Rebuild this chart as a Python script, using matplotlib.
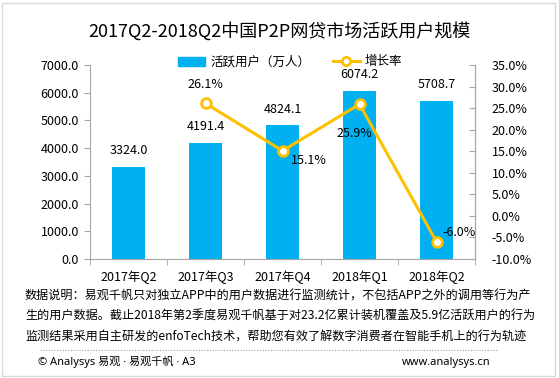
import matplotlib.pyplot as plt
import numpy as np
from matplotlib.lines import Line2D
from matplotlib.patches import Rectangle

plt.rcParams['font.family'] = ['Noto Sans CJK SC', 'DejaVu Sans']

quarters = ['2017年Q2', '2017年Q3', '2017年Q4', '2018年Q1', '2018年Q2']
users = [3324.0, 4191.4, 4824.1, 6074.2, 5708.7]
growth = [26.1, 15.1, 25.9, -6.0]   # from 2017Q3 on

bar_c = '#00B0F0'
line_c = '#FFC000'
grey = '#A6A6A6'

fig = plt.figure(figsize=(5.59, 3.78), dpi=100)
ax = fig.add_axes([90/559, 1-259/378, 385/559, 194/378])
x = np.arange(len(quarters))

ax.bar(x, users, width=0.43, color=bar_c, zorder=2, label='活跃用户（万人）')
for xi, v in zip(x, users):
    ax.annotate('%.1f' % v, (xi, v), xytext=(0, 7), textcoords='offset points',
                ha='center', va='bottom', fontsize=9)

ax.set_xlim(-0.5, len(quarters) - 0.5)
ax.set_ylim(0, 7000)
ax.set_yticks(np.arange(0, 7001, 1000))
ax.set_yticklabels(['%.1f' % t for t in np.arange(0, 7001, 1000)], fontsize=9)
ax.set_xticks(x)
ax.set_xticklabels(quarters, fontsize=9)
ax.set_xticks(np.arange(-0.5, len(quarters)), minor=True)
ax.tick_params(axis='x', which='major', length=0, pad=8)
ax.tick_params(axis='x', which='minor', length=4, color=grey, direction='out')
ax.tick_params(axis='y', length=4, color=grey, pad=4)
ax.spines['top'].set_visible(False)
for s in ['left', 'bottom', 'right']:
    ax.spines[s].set_color(grey)

ax2 = ax.twinx()
ax2.plot(x[1:], growth, color=line_c, lw=2.2, marker='o', ms=7,
         mfc='white', mec=line_c, mew=2, zorder=5)
ax2.set_ylim(-10, 35)
ax2.set_yticks(np.arange(-10, 36, 5))
ax2.set_yticklabels(['%.1f%%' % t for t in np.arange(-10, 36, 5)], fontsize=9)
ax2.tick_params(axis='y', length=4, color=grey, direction='in', pad=12)
ax2.spines['top'].set_visible(False)
ax2.spines['right'].set_color(grey)
ax2.spines['left'].set_visible(False)
ax2.spines['bottom'].set_visible(False)

offsets = [(0, 9, 'center', 'bottom'), (6, -7, 'left', 'center'),
           (-4, -21, 'center', 'center'), (4, 7, 'left', 'center')]
for xi, g, (dx, dy, ha, va) in zip(x[1:], growth, offsets):
    ax2.annotate('%.1f%%' % g, (xi, g), xytext=(dx, dy), textcoords='offset points',
                 ha=ha, va=va, fontsize=9, zorder=6)

handles = [Rectangle((0, 0), 1, 1, color=bar_c),
           Line2D([], [], color=line_c, lw=2.2, marker='o', ms=6, mfc='white', mec=line_c, mew=2)]
fig.legend(handles, ['活跃用户（万人）', '增长率'], loc='center', ncol=2,
           bbox_to_anchor=(290/559, 1-62/378), frameon=False, fontsize=9,
           handlelength=2.2, columnspacing=1.8, handletextpad=0.4)

fig.text(0.5, 1-31/378, '2017Q2-2018Q2中国P2P网贷市场活跃用户规模',
         ha='center', va='center', fontsize=13)

notes = ['数据说明：易观千帆只对独立APP中的用户数据进行监测统计，不包括APP之外的调用等行为产',
         '生的用户数据。截止2018年第2季度易观千帆基于对23.2亿累计装机覆盖及5.9亿活跃用户的行为',
         '监测结果采用自主研发的enfoTech技术，帮助您有效了解数字消费者在智能手机上的行为轨迹']
for i, t in enumerate(notes):
    fig.text(25/559, 1-(296 + 20.5*i)/378, t, ha='left', va='center', fontsize=8.7)

fig.add_artist(Line2D([40/559, 497/559], [1-350/378, 1-350/378], color=grey,
                      lw=0.8, ls=(0, (1, 1.5))))
fig.text(38/559, 1-362/378, '© Analysys 易观 · 易观千帆 · A3', ha='left', va='center',
         fontsize=8, family=['Noto Sans', 'Noto Sans CJK SC'])
fig.text(490/559, 1-362/378, 'www.analysys.cn', ha='right', va='center', fontsize=8,
         family=['Noto Sans', 'Noto Sans CJK SC'])

fig.add_artist(Rectangle((2/559, 2/378), 553/559, 373/378, fill=False,
                         ec='#D9D9D9', lw=1, transform=fig.transFigure))

fig.savefig('out.png', dpi=100)
